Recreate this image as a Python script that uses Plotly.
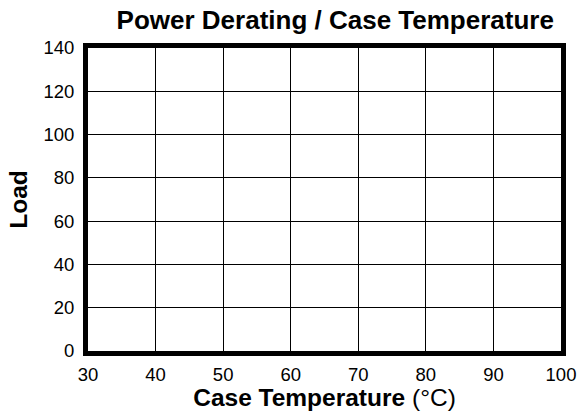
import plotly.graph_objects as go

x_ticks = [30, 40, 50, 60, 70, 80, 90, 100]
y_ticks = [0, 20, 40, 60, 80, 100, 120, 140]
case_temp = []
load = []

fig = go.Figure()
fig.add_trace(go.Scatter(x=case_temp, y=load, mode="lines", showlegend=False))

font = "Liberation Sans, Arial, sans-serif"
fig.update_layout(
    width=580, height=411,
    margin=dict(l=88, r=19, t=48, b=60),
    paper_bgcolor="white", plot_bgcolor="white",
    font=dict(family=font, color="black", size=18.5),
    title=dict(text="<b>Power Derating / Case Temperature</b>", x=0.578, xanchor="center",
               y=0.951, yanchor="middle", font=dict(size=26, family=font, color="black")),
    xaxis=dict(range=[30, 100], tickvals=x_ticks, showgrid=True, gridcolor="black", gridwidth=1,
               showline=True, linecolor="black", linewidth=5, mirror=True, zeroline=False,
               ticks="", ticklen=0, tickfont=dict(size=18.5), automargin=False,
               ticklabelstandoff=3,
               title=dict(text="<b>Case Temperature</b> (°C)", font=dict(size=24.5), standoff=0)),
    yaxis=dict(range=[0, 140], tickvals=y_ticks, showgrid=True, gridcolor="black", gridwidth=1,
               showline=True, linecolor="black", linewidth=5, mirror=True, zeroline=False,
               ticks="", ticklen=0, tickfont=dict(size=18.5), automargin=False,
               ticklabelstandoff=5,
               title=dict(text="<b>Load</b>", font=dict(size=24.5), standoff=10)),
)
fig.write_html("out.html", config={"displayModeBar": False},
               post_script="document.body.style.margin='0';document.body.style.overflow='hidden';")
